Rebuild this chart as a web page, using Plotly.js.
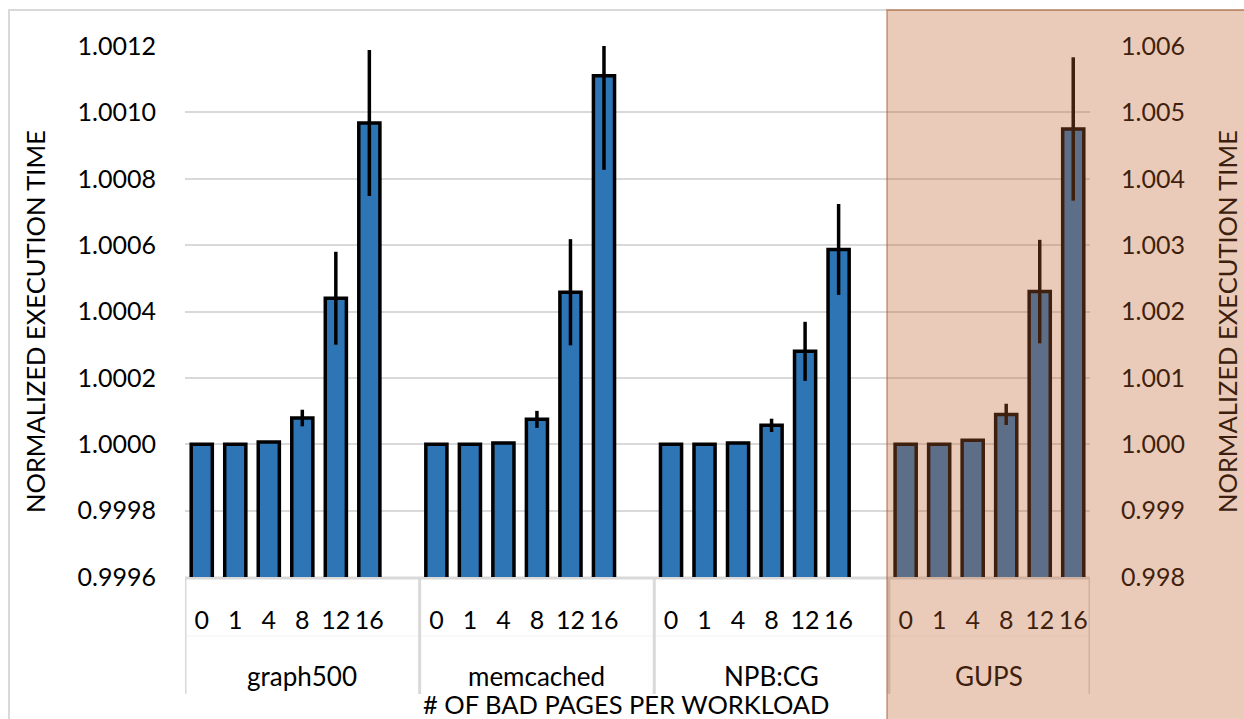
<!DOCTYPE html>
<html>
<head>
<meta charset="utf-8">
<script src="https://cdn.plot.ly/plotly-3.0.1.min.js"></script>
<style>html,body{margin:0;padding:0;background:#fff;}#chart{width:1244px;height:719px;}</style>
</head>
<body>
<div id="chart"></div>
<script>
// ---- data ----
const groups = ['graph500', 'memcached', 'NPB:CG', 'GUPS'];
const pages = ['0', '1', '4', '8', '12', '16'];
const graph500 = [1.0000, 1.0000, 1.000007, 1.000079, 1.00044, 1.000968];
const graph500Err = [0, 0, 0, 0.000025, 0.00014, 0.00022];
const memcached = [1.0000, 1.0000, 1.000004, 1.000075, 1.000458, 1.00111];
const memcachedErr = [0, 0, 0, 0.0000256, 0.00016, 0.000283];
const npbcg = [1.0000, 1.0000, 1.000004, 1.000057, 1.00028, 1.000587];
const npbcgErr = [0, 0, 0, 0.00002, 0.000089, 0.000137];
const gups = [1.000, 1.000, 1.00006, 1.00045, 1.0023, 1.00475];
const gupsErr = [0, 0, 0, 0.00016, 0.00078, 0.00108];
const groupStart = [0, 7, 14, 21]; // 7 category slots per group (last group 6)
const groupEnd = [6.5, 13.5, 20.5, 26.5];
const leftTicks = [0.9996, 0.9998, 1.0000, 1.0002, 1.0004, 1.0006, 1.0008, 1.0010, 1.0012];
const rightTicks = [0.998, 0.999, 1.000, 1.001, 1.002, 1.003, 1.004, 1.005, 1.006];

// ---- layout geometry (pixels) ----
const W = 1244, H = 719;
const L = 185, R = 1090, T = 46, B = 577;
const px = x => (x - L) / (R - L);
const py = y => (B - y) / (B - T);
const FONT = 'Lato, "Open Sans", sans-serif';
const BLUE = '#2E75B6';
const BROWN = '#3C1F0E';

function pos(g) { return pages.map((_, i) => groupStart[g] + i); }

function barTrace(g, vals, errs, yaxis) {
  return {
    type: 'bar',
    x: pos(g),
    y: vals,
    yaxis: yaxis,
    width: 0.63,
    marker: { color: BLUE, line: { color: '#000', width: 3.5 } },
    error_y: { type: 'data', array: errs, visible: true, color: '#000', thickness: 3.5, width: 0 },
    showlegend: false,
    hoverinfo: 'skip'
  };
}

const traces = [
  barTrace(0, graph500, graph500Err, 'y'),
  barTrace(1, memcached, memcachedErr, 'y'),
  barTrace(2, npbcg, npbcgErr, 'y'),
  barTrace(3, gups, gupsErr, 'y2')
];

const tickvals = [].concat(pos(0), pos(1), pos(2), pos(3));
const ticktext = [].concat(pages, pages, pages, pages);

const shapes = [];
// outer chart border
shapes.push({ type: 'rect', xref: 'paper', yref: 'paper', x0: px(9), x1: px(1260), y0: py(740), y1: py(10),
  line: { color: '#D9D9D9', width: 2 }, fillcolor: 'rgba(0,0,0,0)', layer: 'below' });
// category axis table lines
shapes.push({ type: 'line', xref: 'paper', yref: 'paper', x0: 0, x1: 1, y0: py(578), y1: py(578),
  line: { color: '#D9D9D9', width: 3 }, layer: 'below' });
shapes.push({ type: 'line', xref: 'paper', yref: 'paper', x0: 0, x1: 1, y0: py(636), y1: py(636),
  line: { color: '#F2F2F2', width: 1 }, layer: 'below' });
[-0.5].concat(groupEnd).forEach(x => shapes.push({ type: 'line', xref: 'x', yref: 'paper', x0: x, x1: x, y0: py(578), y1: py(694),
  line: { color: '#D9D9D9', width: 3 }, layer: 'below' }));
// GUPS highlight overlay
shapes.push({ type: 'rect', xref: 'paper', yref: 'paper', x0: px(887), x1: px(1260), y0: py(740), y1: py(10),
  line: { color: 'rgba(170,90,45,0.45)', width: 2 }, fillcolor: 'rgba(192,98,44,0.33)', layer: 'above' });

const annotations = [];
groups.forEach((g, i) => {
  const start = i === 0 ? -0.5 : groupEnd[i - 1];
  const c = (start + groupEnd[i]) / 2;
  annotations.push({ x: c, xref: 'x', y: py(676), yref: 'paper', text: g, showarrow: false,
    font: { family: FONT, size: 26, color: i === 3 ? BROWN : '#000' }, xanchor: 'center', yanchor: 'middle' });
});
annotations.push({ x: px(626), xref: 'paper', y: py(704), yref: 'paper', text: '# OF BAD PAGES PER WORKLOAD', showarrow: false,
  font: { family: FONT, size: 25.5, color: '#000' }, xanchor: 'center', yanchor: 'middle' });
annotations.push({ x: px(35), xref: 'paper', y: py(322), yref: 'paper', text: 'NORMALIZED EXECUTION TIME', showarrow: false,
  textangle: -90, font: { family: FONT, size: 25.5, color: '#000' }, xanchor: 'center', yanchor: 'middle' });
annotations.push({ x: px(1227), xref: 'paper', y: py(322), yref: 'paper', text: 'NORMALIZED EXECUTION TIME', showarrow: false,
  textangle: -90, font: { family: FONT, size: 25.5, color: BROWN }, xanchor: 'center', yanchor: 'middle' });

const layout = {
  width: W, height: H,
  margin: { l: L, r: W - R, t: T, b: H - B, pad: 0 },
  paper_bgcolor: '#fff', plot_bgcolor: 'rgba(0,0,0,0)',
  font: { family: FONT, color: '#000' },
  bargap: 0,
  xaxis: {
    range: [-0.5, 26.5], tickvals: tickvals, ticktext: ticktext, showgrid: false, zeroline: false,
    showline: false, ticks: '', tickfont: { family: FONT, size: 25, color: '#000' }, ticklabelstandoff: 26,
    fixedrange: true
  },
  yaxis: {
    range: [0.9996, 1.0012], tickvals: leftTicks, tickformat: '.4f', showgrid: true, gridcolor: '#D9D9D9', gridwidth: 2,
    zeroline: false, showline: false, ticks: '', tickfont: { family: FONT, size: 25, color: '#000' }, ticklabelstandoff: 28
  },
  yaxis2: {
    range: [0.998, 1.006], tickvals: rightTicks, tickformat: '.3f', overlaying: 'y', side: 'right', showgrid: false,
    zeroline: false, showline: false, ticks: '', tickfont: { family: FONT, size: 25, color: '#000' }, ticklabelstandoff: 30
  },
  shapes: shapes,
  annotations: annotations
};

Plotly.newPlot('chart', traces, layout, { staticPlot: true, displayModeBar: false });
</script>
</body>
</html>
